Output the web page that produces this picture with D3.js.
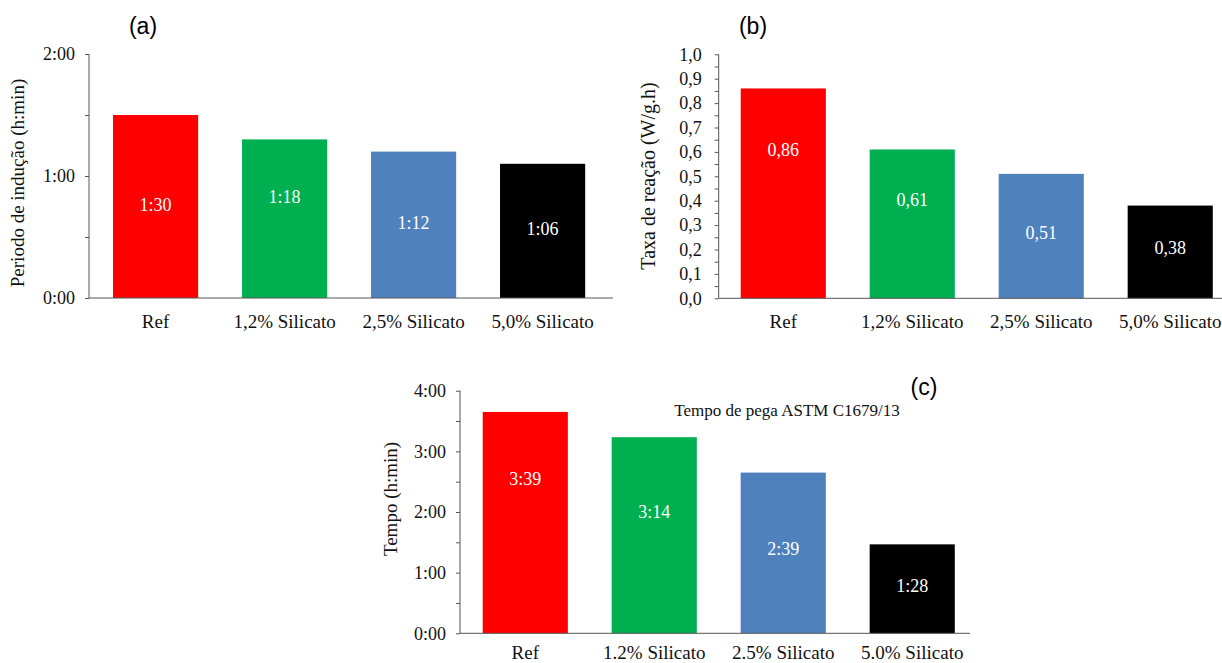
<!DOCTYPE html>
<html>
<head>
<meta charset="utf-8">
<script src="https://cdn.jsdelivr.net/npm/d3@7"></script>
<style>
  html, body { margin: 0; padding: 0; background: #fff; }
  svg { display: block; }
</style>
</head>
<body>
<svg id="chart" width="1222" height="663"></svg>
<script>
// Categories
const categoriesComma = ["Ref", "1,2% Silicato", "2,5% Silicato", "5,0% Silicato"];
const categoriesDot = ["Ref", "1.2% Silicato", "2.5% Silicato", "5.0% Silicato"];

// (a) induction period, minutes
const inductionMinutes = [90, 78, 72, 66];
// (b) reaction rate, W/g.h
const reactionRate = [0.86, 0.61, 0.51, 0.38];
// (c) setting time (ASTM C1679/13), minutes
const settingMinutes = [219, 194, 159, 88];

// Axis tick values
const ticksA = [0, 30, 60, 90, 120];
const labeledTicksA = [0, 60, 120];
const ticksB = d3.range(0, 21).map(i => i * 0.05);
const labeledTicksB = d3.range(0, 11).map(i => i / 10);
const ticksC = [0, 30, 60, 90, 120, 150, 180, 210, 240];
const labeledTicksC = [0, 60, 120, 180, 240];

const barColors = ["#ff0000", "#00b050", "#4f81bd", "#000000"];
const axisColor = "#555";
const SERIF = "'Liberation Serif', 'Times New Roman', 'DejaVu Serif', serif";
const SANS = "'Liberation Sans', Arial, sans-serif";

const fmtTime = m => `${Math.floor(m / 60)}:${String(Math.round(m % 60)).padStart(2, "0")}`;
const fmtDec = (v, d) => v.toFixed(d).replace(".", ",");

const svg = d3.select("#chart");
svg.append("rect").attr("width", 1222).attr("height", 663).attr("fill", "#fff");

function drawPanel(p) {
  const g = svg.append("g");
  const x = d3.scaleBand().domain(p.categories).range([p.bx0, p.bx1])
    .paddingInner(0.34).paddingOuter(0.18);
  const y = d3.scaleLinear().domain(p.domain).range([p.yBottom, p.yTop]);

  // bars
  g.selectAll("rect.bar").data(p.values).join("rect")
    .attr("class", "bar")
    .attr("x", (d, i) => x(p.categories[i]))
    .attr("width", x.bandwidth())
    .attr("y", d => y(d))
    .attr("height", d => y(p.domain[0]) - y(d))
    .attr("fill", (d, i) => barColors[i]);

  // value labels inside bars
  g.selectAll("text.val").data(p.values).join("text")
    .attr("class", "val")
    .attr("x", (d, i) => x(p.categories[i]) + x.bandwidth() / 2)
    .attr("y", (d, i) => y(p.labelAt[i]))
    .attr("dy", "0.35em")
    .attr("text-anchor", "middle")
    .style("font-family", SERIF)
    .style("font-size", "18px")
    .attr("fill", "#fff")
    .text(d => p.format(d));

  // y axis
  const yAxis = g.append("g").attr("transform", `translate(${p.x0},0)`)
    .call(d3.axisLeft(y).tickValues(p.ticks).tickSize(4)
      .tickFormat(d => p.labeled.some(v => Math.abs(v - d) < 1e-9) ? p.format(d) : ""));
  yAxis.select(".domain").attr("stroke", axisColor).attr("d", `M0,${p.yTop}V${p.yBottom}`);
  yAxis.selectAll(".tick line").attr("stroke", axisColor);
  yAxis.selectAll(".tick text")
    .style("font-family", SERIF)
    .style("font-size", "18px")
    .attr("fill", "#111")
    .attr("x", -p.tickGap);

  // x axis
  const xAxis = g.append("g").attr("transform", `translate(0,${p.yBottom})`)
    .call(d3.axisBottom(x).tickSize(0).tickPadding(0));
  xAxis.select(".domain").attr("stroke", axisColor).attr("d", `M${p.x0},0H${p.xEnd}`);
  xAxis.selectAll(".tick text")
    .style("font-family", SERIF)
    .style("font-size", "19px")
    .attr("fill", "#111")
    .attr("dy", null)
    .attr("y", p.catY);

  // y axis title
  g.append("text")
    .attr("transform", `translate(${p.titleX},${p.titleY}) rotate(-90)`)
    .attr("text-anchor", "middle")
    .attr("dy", "0.35em")
    .style("font-family", SERIF)
    .style("font-size", p.titleSize + "px")
    .attr("fill", "#111")
    .text(p.yTitle);

  // panel letter
  g.append("text")
    .attr("x", p.letterX).attr("y", p.letterY)
    .attr("text-anchor", "middle")
    .style("font-family", SANS)
    .style("font-size", "23px")
    .attr("fill", "#000")
    .text(p.letter);

  return g;
}

drawPanel({
  categories: categoriesComma, values: inductionMinutes, domain: [0, 120],
  ticks: ticksA, labeled: labeledTicksA, format: fmtTime,
  labelAt: [46, 50, 37, 34],
  x0: 89, bx0: 89.8, bx1: 608.4, xEnd: 613, yTop: 54, yBottom: 298, tickGap: 14, catY: 30,
  yTitle: "Periodo de indução (h:min)", titleX: 17, titleY: 183, titleSize: 19,
  letter: "(a)", letterX: 143, letterY: 34
});

drawPanel({
  categories: categoriesComma, values: reactionRate, domain: [0, 1],
  ticks: ticksB, labeled: labeledTicksB, format: v => fmtDec(v, v >= 0.1 && Math.round(v * 100) % 10 !== 0 ? 2 : 1),
  labelAt: [0.608, 0.403, 0.268, 0.206],
  x0: 718.7, bx0: 717.5, bx1: 1236, xEnd: 1240, yTop: 54.3, yBottom: 298.3, tickGap: 17, catY: 30,
  yTitle: "Taxa de reação (W/g.h)", titleX: 648, titleY: 176, titleSize: 20,
  letter: "(b)", letterX: 753, letterY: 34
});

const pc = drawPanel({
  categories: categoriesDot, values: settingMinutes, domain: [0, 240],
  ticks: ticksC, labeled: labeledTicksC, format: fmtTime,
  labelAt: [152.6, 120.3, 84, 46.8],
  x0: 460, bx0: 459.5, bx1: 978, xEnd: 970, yTop: 390.7, yBottom: 633.3, tickGap: 14, catY: 26,
  yTitle: "Tempo (h:min)", titleX: 390, titleY: 499, titleSize: 19,
  letter: "(c)", letterX: 924, letterY: 395
});

pc.append("text")
  .attr("x", 787).attr("y", 416)
  .attr("text-anchor", "middle")
  .style("font-family", SERIF)
  .style("font-size", "17px")
  .attr("fill", "#111")
  .text("Tempo de pega ASTM C1679/13");
</script>
</body>
</html>
